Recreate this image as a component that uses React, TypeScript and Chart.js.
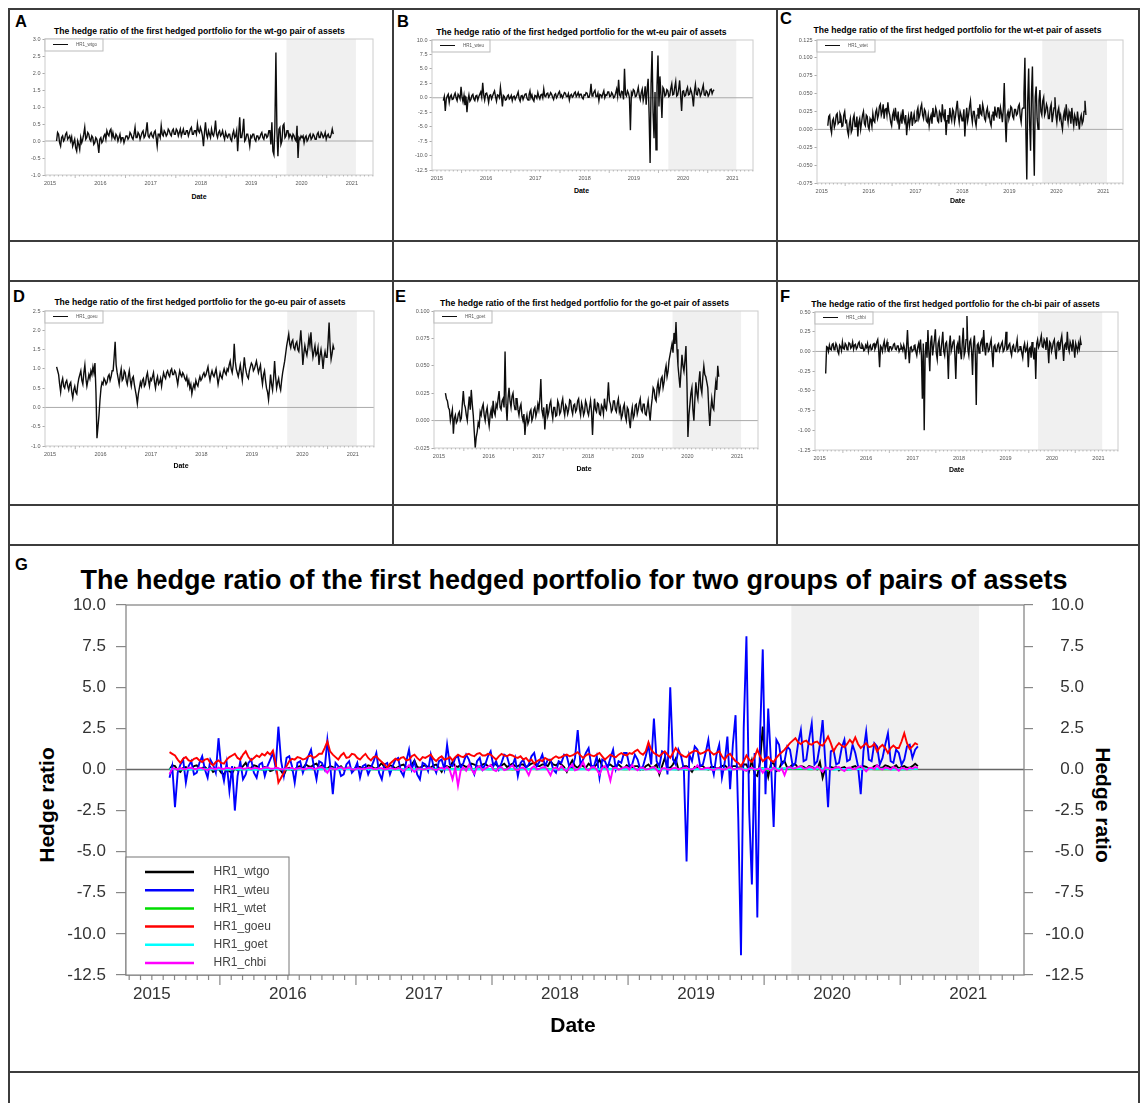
import React, { useEffect, useRef } from 'react';
import { Chart, registerables } from 'chart.js';

Chart.register(...registerables);

const FONT = '"Liberation Sans", Arial, Helvetica, sans-serif';
Chart.defaults.font.family = FONT;

// ---------------- data ----------------
// weekly observations (STEP_YEARS apart) starting at START_YEAR, in decimal years
const START_YEAR = 2015.13;
const STEP_YEARS = 0.02;

const HR1_WTGO = [
  0.0, 0.25, 0.2, -0.05, -0.15, 0.1, 0.15, 0.0, 0.05, 0.2, 0.25, 0.05, 0.1, 0.15, 0.0, 0.12, -0.15, -0.05, 0.05, -0.2, -0.3, 0.0, -0.1, -0.25, 0.1, -0.05, 0.05, 0.2, 0.4, 0.05, 0.1, 0.25, 0.2, 0.05, 0.0, 0.15, 0.1, -0.1, -0.05, 0.1, 0.05, -0.1, -0.35, 0.05,
  0.1, -0.05, 0.0, 0.15, 0.2, 0.05, 0.3, 0.2, 0.15, 0.3, 0.35, 0.1, 0.25, 0.1, 0.05, 0.2, 0.15, 0.0, 0.1, 0.2, 0.0, 0.1, 0.1, -0.05, 0.05, 0.15, 0.15, 0.05, 0.1, 0.25, 0.2, 0.1, 0.05, 0.2, 0.4, 0.1, 0.1, 0.25, 0.2, 0.05, 0.15, 0.25, 0.3, 0.1, 0.15, 0.3, 0.55, 0.15, 0.1, 0.2,
  0.25, 0.15, 0.1, 0.25, 0.3, 0.1, -0.15, 0.2, 0.2, 0.1, 0.45, 0.2, 0.15, 0.3, 0.25, 0.15, 0.2, 0.35, 0.3, 0.2, 0.15, 0.3, 0.35, 0.2, 0.2, 0.35, 0.3, 0.15, 0.25, 0.35, 0.15, 0.25, 0.35, 0.2, 0.2, 0.3, 0.3, 0.15, 0.25, 0.35, 0.4, 0.2, 0.2, 0.3, 0.3, 0.2, 0.5, 0.3, 0.25, 0.4,
  0.3, 0.15, -0.15, 0.25, 0.55, 0.2, 0.1, 0.3, 0.2, 0.1, 0.35, 0.2, 0.15, 0.3, 0.6, 0.2, 0.1, 0.25, 0.3, 0.15, 0.2, 0.3, 0.15, 0.05, 0.25, 0.15, 0.1, 0.2, 0.2, 0.05, 0.0, 0.2, 0.3, 0.1, 0.15, 0.3, -0.3, 0.2, 0.7, 0.1, 0.1, 0.3, 0.65, 0.0, 0.05, 0.2, 0.2, 0.05, -0.15, 0.15,
  0.1, 0.2, 0.2, 0.05, 0.0, 0.15, 0.15, 0.05, 0.1, 0.2, 0.25, 0.1, 0.05, 0.2, 0.2, 0.1, 0.15, 0.3, 0.3, -0.1, 0.55, -0.3, -0.4, 0.45, 2.6, 0.3, -0.45, 0.35, 0.4, -0.1, 0.0, 0.45, 0.5, 0.1, 0.15, 0.3, 0.3, 0.1, 0.2, 0.15, 0.05, 0.2, 0.15, 0.05, 0.0, 0.45, -0.5, 0.1, 0.05, 0.15,
  0.1, 0.15, -0.05, 0.1, 0.15, 0.0, 0.05, 0.15, 0.2, 0.05, 0.1, 0.2, 0.15, 0.05, 0.05, 0.2, 0.25, 0.1, 0.1, 0.25, 0.2, 0.1, 0.15, 0.25, 0.05, 0.15, 0.2, 0.1, 0.1, 0.2, 0.35, 0.2,
];

const HR1_WTEU = [
  -0.5, 0.2, -2.3, -0.2, 0.3, 0.6, -0.8, 0.2, 0.5, -0.3, -0.2, 0.4, 0.8, 0.0, -0.5, 0.6, 0.3, -0.2, 1.9, 0.1, -0.7, 0.4, -1.3, 0.2, -2.5, -0.4, 0.5, -0.6, -0.3, 0.4, 0.6, -0.2, -0.5, 0.3, 0.4, -0.4, 0.2, 0.6, 1.0, 0.1, 2.6, 0.5, -0.4, 0.7,
  0.8, 0.2, -0.8, 0.4, 0.5, -0.2, 0.3, 0.8, 1.2, 0.2, -0.6, 0.5, 0.4, 0.0, 1.8, 0.3, -1.5, 0.4, 0.2, -0.4, -0.3, 0.3, 0.5, -0.2, 0.0, 0.4, -0.5, 0.2, 0.3, -0.3, 0.1, 0.5, 1.0, -0.2, -0.6, 0.3, 0.4, -0.3, 0.2, 0.6, 0.7, -0.1, -0.4, 0.5, 1.2, 0.0, 0.5, -0.3, -0.6, 0.4,
  0.3, -0.1, 0.9, 0.2, -0.2, 0.5, 0.6, 0.0, 1.5, 0.3, 0.2, 0.7, 0.8, 0.1, 0.4, 0.9, 0.6, 0.1, -0.3, 0.5, 0.7, 0.0, 0.3, 0.8, 1.1, 0.2, 0.5, 0.0, 0.4, 0.9, 0.8, 0.2, 0.2, 0.7, -0.4, 0.4, 0.6, 0.1, 0.3, 0.8, 1.0, 0.2, 0.5, 0.9, 0.2, 0.6, 0.6, 0.0, -0.2, 0.5,
  0.4, 0.9, 0.8, 0.1, 0.1, 0.7, 2.4, 0.3, 0.6, 1.0, 1.3, 0.2, 0.2, 0.8, -0.5, 0.6, 0.5, 0.1, 0.7, 1.2, 0.0, 0.5, 0.4, 1.0, 1.0, 0.2, 0.3, 0.9, 0.6, 0.0, 0.2, 0.8, 1.5, 0.3, 3.1, 0.5, 0.2, 1.1, 1.0, -0.3, 5.0, 0.6, 0.3, 1.2, 0.8, 0.0, -5.6, 0.9, 0.5, 1.4,
  1.2, 0.2, 0.3, 1.0, 1.8, 0.4, -0.3, 0.9, 1.5, -0.5, 0.4, 2.0, -1.2, 1.5, 3.3, -3.0, -11.3, 2.5, 8.1, -2.5, -7.0, 1.0, -9.0, 2.0, 7.3, -1.5, 3.7, 0.5, -3.5, 1.8, 1.5, 0.3, 0.5, 1.4, 1.2, 0.2, 0.4, 1.6, 2.4, 0.5, 0.6, 1.8, 2.8, 0.3, 0.5, 1.5, 3.0, 0.4, -2.3, 1.1,
  1.2, 0.3, 0.4, 1.3, 1.8, 0.5, 0.6, 1.5, 1.0, 0.2, -1.5, 1.1, 2.3, 0.6, 0.5, 1.6, 1.4, 0.3, 0.7, 1.5, 2.2, 0.5, 0.4, 1.2, 1.0, 0.3, 0.6, 1.4, 1.5, 0.7, 1.2, 1.4,
];

const HR1_WTET = [
  0.005, 0.018, 0.02, 0.002, -0.005, 0.012, 0.015, 0.003, 0.008, 0.02, 0.022, 0.008, 0.01, 0.022, 0.018, 0.004, 0.005, 0.02, 0.025, 0.01, 0.012, -0.002, -0.008, 0.008, 0.015, -0.004, 0.0, 0.015, 0.02, 0.004, 0.005, 0.018, -0.01, 0.01, 0.015, 0.0, 0.01, 0.02, 0.025, 0.008, 0.005, 0.02, 0.018, 0.004,
  0.0, 0.015, 0.012, 0.004, 0.022, 0.012, 0.01, 0.024, 0.028, 0.015, 0.02, 0.032, 0.035, 0.02, 0.025, 0.035, 0.015, 0.028, 0.03, 0.02, 0.038, 0.025, 0.02, 0.01, 0.005, 0.02, 0.025, 0.012, 0.03, 0.018, 0.012, 0.025, 0.0, 0.012, 0.02, 0.008, 0.028, 0.015, 0.01, 0.02, -0.008, 0.008, 0.018, 0.005, 0.015, 0.025, 0.005, 0.015, 0.022, 0.01,
  0.012, 0.025, 0.03, 0.015, 0.02, 0.03, 0.035, 0.02, 0.015, 0.028, 0.025, 0.012, 0.01, 0.02, 0.005, 0.015, 0.02, 0.008, 0.03, 0.018, 0.018, 0.03, 0.025, 0.012, 0.01, 0.025, 0.022, 0.01, 0.035, 0.02, 0.015, 0.028, -0.008, 0.012, 0.02, 0.008, 0.03, 0.018, 0.012, 0.028, 0.025, 0.01, 0.018, 0.03, 0.04, 0.02, 0.01, 0.025, 0.02, 0.012,
  0.015, 0.028, -0.01, 0.015, 0.03, 0.012, 0.02, 0.032, 0.04, 0.02, 0.01, 0.025, 0.025, 0.012, 0.005, 0.02, 0.03, 0.015, 0.035, 0.022, 0.02, 0.035, 0.028, 0.015, 0.012, 0.025, 0.03, 0.018, 0.022, 0.01, 0.005, 0.02, 0.025, 0.012, 0.032, 0.02, 0.018, 0.03, 0.03, 0.015, 0.03, 0.022, 0.01, 0.028, 0.065, 0.015, -0.018, 0.02, 0.025, 0.015,
  0.02, 0.032, 0.03, 0.018, 0.015, 0.028, 0.028, 0.02, 0.022, 0.032, 0.035, 0.018, 0.01, 0.028, 0.03, 0.05, 0.1, 0.0, -0.07, 0.04, 0.085, 0.01, -0.03, 0.05, 0.088, 0.0, -0.065, 0.045, 0.06, 0.015, 0.0, 0.04, 0.055, 0.025, 0.02, 0.04, 0.045, 0.02, 0.025, 0.035, 0.03, 0.015, 0.015, 0.03, 0.035, 0.01, 0.02, 0.03, 0.045, 0.02,
  0.01, 0.025, 0.03, 0.015, 0.02, 0.008, 0.0, 0.018, 0.025, 0.012, 0.035, 0.02, 0.01, 0.025, 0.02, 0.008, 0.03, 0.015, 0.005, 0.02, 0.015, 0.005, 0.025, 0.012, 0.0, 0.015, 0.02, 0.008, 0.012, 0.025, 0.04, 0.02,
];

const HR1_GOEU = [
  1.05, 0.95, 0.85, 0.6, 0.4, 0.65, 0.75, 0.55, 0.5, 0.65, 0.7, 0.55, 0.45, 0.6, 0.65, 0.4, 0.25, 0.45, 0.55, 0.4, 0.35, 0.6, 0.75, 0.85, 0.95, 0.7, 0.6, 0.9, 1.1, 0.75, 0.55, 0.7, 0.85, 0.75, 0.95, 0.85, 1.05, 0.9, 1.15, 0.4, -0.8, -0.5, -0.2, 0.2,
  0.5, 0.65, 0.6, 0.75, 0.7, 0.6, 0.65, 0.8, 0.85, 0.7, 0.8, 0.95, 0.95, 1.3, 1.7, 1.1, 0.9, 0.75, 0.6, 0.85, 1.0, 0.7, 0.75, 0.95, 0.9, 0.7, 0.6, 0.8, 0.95, 0.7, 0.55, 0.75, 0.8, 0.6, 0.45, 0.3, 0.1, 0.35, 0.5, 0.65, 0.55, 0.7, 0.75, 0.55, 0.6, 0.8, 0.9, 0.7, 0.55, 0.75,
  0.7, 0.8, 0.9, 0.65, 0.5, 0.7, 0.8, 0.6, 0.65, 0.75, 0.55, 0.75, 0.9, 0.8, 0.75, 0.9, 0.95, 0.85, 0.8, 0.95, 1.0, 0.85, 0.85, 0.95, 0.9, 0.75, 0.6, 0.8, 0.95, 0.85, 0.8, 0.9, 0.85, 0.75, 0.7, 0.8, 0.6, 0.7, 0.5, 0.6, 0.35, 0.5, 0.6, 0.5, 0.7, 0.6, 0.55, 0.7, 0.8, 0.7,
  0.75, 0.85, 0.9, 0.8, 0.85, 0.95, 1.05, 0.85, 0.7, 0.85, 0.95, 0.85, 0.8, 0.9, 1.0, 0.8, 0.6, 0.75, 0.9, 0.8, 0.75, 0.9, 1.0, 0.9, 0.85, 1.0, 0.95, 1.1, 1.2, 1.0, 0.9, 1.1, 1.65, 1.2, 1.0, 0.9, 0.8, 0.95, 1.1, 0.9, 0.7, 1.0, 1.3, 1.05, 0.9, 0.8, 0.75, 0.95, 1.05, 1.15,
  1.1, 0.95, 1.0, 1.1, 1.2, 1.05, 0.9, 1.0, 1.1, 0.8, 0.6, 0.85, 0.95, 0.7, 0.5, 0.4, 0.2, 0.5, 0.85, 0.6, 0.45, 0.75, 1.2, 0.8, 0.5, 0.65, 0.75, 0.55, 0.45, 0.7, 0.9, 1.05, 1.2, 1.4, 1.6, 1.75, 1.9, 1.65, 1.55, 1.7, 1.75, 1.55, 1.5, 1.65, 1.7, 1.5, 1.45, 1.7, 2.0, 1.6,
  1.1, 1.4, 1.6, 1.45, 1.35, 1.55, 1.8, 1.6, 1.95, 1.55, 1.3, 1.45, 1.6, 1.35, 1.4, 1.55, 1.1, 1.35, 1.5, 1.3, 1.0, 1.3, 1.45, 1.3, 1.3, 1.7, 2.2, 1.6, 1.25, 1.4, 1.6, 1.5,
];

const HR1_GOET = [
  0.025, 0.02, 0.018, 0.012, 0.01, 0.0, 0.005, 0.01, -0.012, 0.002, 0.005, -0.002, 0.0, 0.006, 0.008, 0.0, 0.002, 0.015, 0.027, 0.015, 0.012, 0.005, 0.0, 0.012, 0.022, 0.01, 0.028, 0.015, 0.005, -0.01, -0.025, -0.015, -0.01, -0.002, -0.005, 0.008, 0.005, 0.012, 0.015, 0.005, 0.0, 0.008, 0.012, 0.002,
  -0.005, 0.005, 0.01, 0.002, 0.018, 0.008, 0.005, 0.015, 0.012, 0.02, 0.027, 0.012, 0.01, 0.018, 0.02, 0.012, 0.063, 0.015, 0.0, 0.02, 0.03, 0.018, 0.012, 0.022, 0.025, 0.015, 0.01, 0.02, 0.02, 0.01, 0.005, 0.012, 0.015, 0.004, 0.0, 0.006, -0.013, 0.0, 0.005, -0.003, 0.0, 0.008, 0.01, 0.0, 0.003, 0.01, 0.012, 0.004, 0.008, 0.015,
  0.01, 0.02, 0.038, 0.01, 0.005, 0.012, -0.008, 0.005, 0.015, 0.004, 0.008, 0.015, 0.018, 0.008, 0.002, 0.012, 0.012, 0.004, 0.005, 0.018, 0.015, 0.006, 0.008, 0.016, 0.02, 0.01, 0.005, 0.014, 0.012, 0.006, 0.01, 0.019, 0.018, 0.01, 0.006, 0.014, 0.015, 0.008, 0.01, 0.018, 0.02, 0.01, 0.005, 0.016, 0.012, 0.005, 0.008, 0.018, 0.015, 0.008,
  0.005, 0.012, 0.018, 0.008, -0.013, 0.008, 0.02, 0.01, 0.008, 0.016, 0.015, 0.006, 0.005, 0.014, 0.012, 0.006, 0.02, 0.012, 0.01, 0.02, 0.035, 0.018, 0.015, 0.008, 0.01, 0.018, 0.018, 0.01, 0.008, 0.016, 0.02, 0.008, 0.012, 0.002, 0.005, 0.012, 0.015, 0.004, 0.0, 0.012, 0.01, 0.0, -0.007, 0.006, 0.012, 0.002, 0.005, 0.014, 0.015, 0.006,
  0.01, 0.016, 0.02, 0.01, 0.008, 0.015, 0.015, 0.006, 0.005, 0.012, 0.018, 0.008, 0.0, 0.012, 0.02, 0.03, 0.028, 0.02, 0.018, 0.03, 0.035, 0.025, 0.03, 0.038, 0.04, 0.03, 0.035, 0.045, 0.05, 0.04, 0.045, 0.055, 0.06, 0.065, 0.07, 0.062, 0.08, 0.07, 0.09, 0.065, 0.05, 0.04, 0.03, 0.045, 0.06, 0.05, 0.045, 0.055, 0.068, 0.035,
  -0.015, 0.005, 0.015, 0.025, 0.03, 0.01, 0.0, 0.02, 0.035, 0.025, 0.02, 0.035, 0.045, 0.03, 0.025, 0.04, 0.05, 0.042, 0.04, 0.035, 0.03, 0.01, -0.005, 0.01, 0.02, 0.012, 0.01, 0.025, 0.035, 0.028, 0.05, 0.04,
];

const HR1_CHBI = [
  -0.28, 0.06, 0.05, 0.0, 0.08, 0.03, 0.02, 0.09, 0.1, 0.02, 0.04, 0.1, 0.07, 0.0, -0.03, 0.08, 0.06, 0.01, 0.12, 0.04, 0.03, 0.1, 0.08, 0.02, 0.05, 0.11, 0.1, 0.04, 0.06, 0.12, 0.03, 0.08, 0.09, 0.03, 0.05, 0.1, 0.12, 0.05, 0.04, 0.09, 0.07, 0.01, 0.02, 0.08,
  0.05, 0.1, 0.0, 0.06, 0.08, 0.02, 0.03, 0.09, 0.1, 0.03, 0.06, 0.12, 0.15, 0.02, -0.2, 0.07, 0.05, 0.0, 0.08, 0.13, 0.02, 0.07, 0.12, 0.01, 0.0, 0.06, 0.06, 0.02, 0.04, 0.09, 0.1, 0.03, 0.02, 0.07, 0.07, 0.0, 0.03, 0.08, 0.05, 0.01, 0.08, 0.03, -0.1, 0.06, 0.27, 0.02, -0.15, 0.05, 0.06, 0.0,
  0.02, 0.07, 0.08, 0.0, -0.05, 0.05, 0.1, 0.02, 0.15, -0.05, -0.6, 0.1, -1.0, -0.05, 0.12, -0.08, 0.27, 0.0, -0.25, 0.12, 0.2, -0.05, 0.05, 0.15, 0.28, -0.02, -0.1, 0.1, 0.15, -0.05, 0.0, 0.12, 0.25, 0.0, -0.05, 0.1, 0.12, -0.02, -0.35, 0.08, 0.2, 0.0, 0.05, 0.12, 0.15, -0.05, -0.35, 0.06, 0.1, -0.03,
  0.2, 0.0, -0.1, 0.12, 0.3, -0.05, 0.0, 0.15, 0.45, 0.02, -0.05, 0.12, 0.15, 0.0, -0.3, 0.1, 0.2, -0.05, -0.68, 0.08, 0.1, -0.02, 0.05, 0.12, 0.15, 0.0, 0.27, 0.05, -0.05, 0.1, 0.1, 0.0, 0.02, 0.1, 0.15, -0.02, -0.2, 0.06, 0.08, 0.0, 0.0, 0.08, 0.1, 0.01, 0.05, 0.09, 0.12, 0.0, 0.02, 0.08,
  0.25, 0.02, 0.03, 0.08, 0.1, 0.0, -0.05, 0.06, 0.08, 0.01, 0.0, 0.07, 0.15, 0.0, 0.02, 0.06, 0.06, -0.02, -0.08, 0.05, 0.1, 0.0, 0.02, 0.08, -0.2, 0.03, 0.05, -0.08, 0.12, 0.0, -0.1, 0.05, -0.35, 0.1, 0.15, 0.05, 0.08, 0.14, 0.2, 0.06, 0.05, 0.15, 0.12, 0.02, 0.18, 0.05, -0.15, 0.12, 0.1, 0.0,
  0.05, 0.12, 0.15, 0.0, -0.1, 0.1, 0.12, 0.02, 0.03, 0.14, 0.2, 0.05, -0.12, 0.08, 0.1, 0.02, 0.25, 0.05, 0.0, 0.12, 0.08, 0.0, 0.15, 0.05, -0.08, 0.1, 0.05, 0.0, 0.1, 0.04, 0.15, 0.08,
];

const SERIES = [HR1_WTGO, HR1_WTEU, HR1_WTET, HR1_GOEU, HR1_GOET, HR1_CHBI];
const SERIES_LABELS = ['HR1_wtgo', 'HR1_wteu', 'HR1_wtet', 'HR1_goeu', 'HR1_goet', 'HR1_chbi'];
const PAIR_NAMES = ['wt-go', 'wt-eu', 'wt-et', 'go-eu', 'go-et', 'ch-bi'];
const PANEL_LETTERS = ['A', 'B', 'C', 'D', 'E', 'F'];
const YEAR_TICKS = [2015, 2016, 2017, 2018, 2019, 2020, 2021];

const SMALL_Y_MIN = [-1, -12.5, -0.075, -1, -0.025, -1.25];
const SMALL_Y_MAX = [3, 10, 0.125, 2.5, 0.1, 0.5];
const SMALL_Y_STEP = [0.5, 2.5, 0.025, 0.5, 0.025, 0.25];
const SMALL_Y_DECIMALS = [1, 1, 3, 1, 3, 2];

const G_Y_MIN = -12.5;
const G_Y_MAX = 10;
const G_Y_STEP = 2.5;
const G_COLORS = ['#000000', '#0000ff', '#00dd00', '#ff0000', '#00ffff', '#ff00ff'];

const SHADE_FROM = 2019.7;
const SHADE_TO = 2021.08;

// ---------------- layout ----------------
const SMALL_X_MIN = 2014.9;
const SMALL_X_MAX = 2021.42;
const G_X_MIN = 2014.81;
const G_X_MAX = 2021.41;

const SMALL_LAYOUT = [
  { plot: [45, 373, 39, 175], letter: [15, 15], title: [199.5, 30.5], date: [199, 196] },
  { plot: [432, 753, 40, 170], letter: [397, 15], title: [581.5, 32], date: [581.5, 189.5] },
  { plot: [817, 1123, 40, 183], letter: [780, 12], title: [957.5, 29.5], date: [957.5, 200] },
  { plot: [45, 374, 311, 446], letter: [13, 290], title: [200, 302], date: [181, 464.5] },
  { plot: [434, 758, 311, 448], letter: [395, 290], title: [584.5, 302.5], date: [584, 468] },
  { plot: [815, 1118, 312, 450], letter: [780, 290], title: [955.5, 304], date: [956.5, 469] },
];
const S_YW = 26;
const S_PADT = 7;
const S_PADR = 6;
const S_XH = 16;

const G_PLOT = [126, 1024, 605, 975];
const G_YW = 60;
const G_PADT = 22;
const G_XH = 42;

const toPoints = (vals: number[]) => vals.map((v, i) => ({ x: START_YEAR + i * STEP_YEARS, y: v }));

type LegendSpec = {
  anchor: 'top' | 'bottom';
  w: number; h: number; firstRow: number; rowH: number;
  lineX0: number; lineX1: number; textX: number;
  fontSize: number; textColor: string; lineWidth: number; borderColor: string;
};

type DecorOpts = {
  shade: string; zeroColor: string; zeroWidth: number;
  frameColor: string; frameWidth: number;
  tickColor: string; shortTick: number; longTick: number; tickWidth: number;
  legend: LegendSpec;
};

function decorPlugin(o: DecorOpts) {
  return {
    id: 'decor',
    beforeDatasetsDraw(chart: any) {
      const { ctx, chartArea: a } = chart;
      const xs = chart.scales.x;
      const ys = chart.scales.y;
      ctx.save();
      const sx0 = Math.max(a.left, xs.getPixelForValue(SHADE_FROM));
      const sx1 = Math.min(a.right, xs.getPixelForValue(SHADE_TO));
      ctx.fillStyle = o.shade;
      ctx.fillRect(sx0, a.top, sx1 - sx0, a.bottom - a.top);
      const zy = ys.getPixelForValue(0);
      ctx.strokeStyle = o.zeroColor;
      ctx.lineWidth = o.zeroWidth;
      ctx.beginPath();
      ctx.moveTo(a.left, zy);
      ctx.lineTo(a.right, zy);
      ctx.stroke();
      ctx.restore();
    },
    afterDatasetsDraw(chart: any) {
      const { ctx, chartArea: a } = chart;
      const xs = chart.scales.x;
      ctx.save();
      // frame
      ctx.strokeStyle = o.frameColor;
      ctx.lineWidth = o.frameWidth;
      ctx.strokeRect(a.left, a.top, a.right - a.left, a.bottom - a.top);
      // month ticks on the date axis (long ones at mid-year)
      ctx.strokeStyle = o.tickColor;
      ctx.lineWidth = o.tickWidth;
      ctx.beginPath();
      for (let m = Math.ceil(xs.min * 12); m <= Math.floor(xs.max * 12); m++) {
        const px = xs.getPixelForValue(m / 12);
        const len = ((m % 12) + 12) % 12 === 6 ? o.longTick : o.shortTick;
        ctx.moveTo(px, a.bottom);
        ctx.lineTo(px, a.bottom + len);
      }
      ctx.stroke();
      // legend
      const lg = o.legend;
      const bx = a.left;
      const by = lg.anchor === 'top' ? a.top : a.bottom - lg.h;
      ctx.fillStyle = '#ffffff';
      ctx.fillRect(bx, by, lg.w, lg.h);
      ctx.strokeStyle = lg.borderColor;
      ctx.lineWidth = 1;
      ctx.strokeRect(bx, by, lg.w, lg.h);
      ctx.font = `${lg.fontSize}px ${FONT}`;
      ctx.textBaseline = 'middle';
      ctx.textAlign = 'left';
      chart.data.datasets.forEach((d: any, i: number) => {
        const ry = by + lg.firstRow + i * lg.rowH;
        ctx.strokeStyle = d.borderColor;
        ctx.lineWidth = lg.lineWidth;
        ctx.beginPath();
        ctx.moveTo(bx + lg.lineX0, ry);
        ctx.lineTo(bx + lg.lineX1, ry);
        ctx.stroke();
        ctx.fillStyle = lg.textColor;
        ctx.fillText(d.label, bx + lg.textX, ry);
      });
      ctx.restore();
    },
  };
}

const textBase: React.CSSProperties = {
  position: 'absolute',
  fontFamily: FONT,
  lineHeight: 1,
  whiteSpace: 'nowrap',
  color: '#000',
};

function CenterText({ x, y, size, bold = true, rotate = 0, color = '#000', children }: any) {
  return (
    <div
      style={{
        ...textBase,
        left: x,
        top: y,
        fontSize: size,
        fontWeight: bold ? 700 : 400,
        color,
        transform: `translate(-50%, -50%) rotate(${rotate}deg)`,
      }}
    >
      {children}
    </div>
  );
}

function Letter({ x, y, children }: any) {
  const size = 16.5;
  return (
    <div style={{ ...textBase, left: x, top: y - 0.13 * size, fontSize: size, fontWeight: 700 }}>{children}</div>
  );
}

function SmallPanel({ idx }: { idx: number }) {
  const ref = useRef<HTMLCanvasElement | null>(null);
  const lay = SMALL_LAYOUT[idx];
  const [L, R, T, B] = lay.plot;
  const cw = R - L + S_YW + S_PADR;
  const ch = B - T + S_PADT + S_XH;

  useEffect(() => {
    const dec = SMALL_Y_DECIMALS[idx];
    const chart = new Chart(ref.current as HTMLCanvasElement, {
      type: 'line',
      data: {
        datasets: [
          {
            label: SERIES_LABELS[idx],
            data: toPoints(SERIES[idx]),
            borderColor: '#0d0d0d',
            borderWidth: 1.4,
            pointRadius: 0,
            tension: 0,
            fill: false,
          },
        ],
      },
      options: {
        animation: false,
        responsive: false,
        maintainAspectRatio: false,
        events: [],
        layout: { padding: { top: S_PADT, right: S_PADR, left: 0, bottom: 0 } },
        plugins: { legend: { display: false }, tooltip: { enabled: false }, title: { display: false } },
        scales: {
          x: {
            type: 'linear',
            min: SMALL_X_MIN,
            max: SMALL_X_MAX,
            afterBuildTicks: (s: any) => {
              s.ticks = YEAR_TICKS.map((value) => ({ value }));
            },
            afterFit: (s: any) => {
              s.height = S_XH;
            },
            grid: { display: false, drawTicks: false },
            border: { display: false },
            ticks: {
              autoSkip: false,
              maxRotation: 0,
              padding: 5,
              color: '#555',
              font: { size: 5.5, family: FONT },
              callback: (v: any) => String(v),
            },
          },
          y: {
            type: 'linear',
            min: SMALL_Y_MIN[idx],
            max: SMALL_Y_MAX[idx],
            afterFit: (s: any) => {
              s.width = S_YW;
            },
            grid: { drawOnChartArea: false, drawTicks: true, tickLength: 2.5, color: '#aaa' },
            border: { display: false },
            ticks: {
              stepSize: SMALL_Y_STEP[idx],
              padding: 2,
              color: '#555',
              font: { size: 5.5, family: FONT },
              callback: (v: any) => Number(v).toFixed(dec),
            },
          },
        },
      } as any,
      plugins: [
        decorPlugin({
          shade: '#f0f0f0',
          zeroColor: '#aaaaaa',
          zeroWidth: 1,
          frameColor: '#cccccc',
          frameWidth: 1,
          tickColor: '#aaaaaa',
          shortTick: 1.5,
          longTick: 3,
          tickWidth: 0.8,
          legend: {
            anchor: 'top',
            w: 58,
            h: 12,
            firstRow: 5.5,
            rowH: 0,
            lineX0: 8,
            lineX1: 23,
            textX: 31,
            fontSize: 4.5,
            textColor: '#555',
            lineWidth: 1,
            borderColor: '#bbbbbb',
          },
        }),
      ],
    });
    return () => chart.destroy();
  }, [idx]);

  return (
    <>
      <Letter x={lay.letter[0]} y={lay.letter[1]}>{PANEL_LETTERS[idx]}</Letter>
      <CenterText x={lay.title[0]} y={lay.title[1]} size={8.6}>
        {`The hedge ratio of the first hedged portfolio for the ${PAIR_NAMES[idx]} pair of assets`}
      </CenterText>
      <canvas
        ref={ref}
        width={cw}
        height={ch}
        style={{ position: 'absolute', left: L - S_YW, top: T - S_PADT, width: cw, height: ch }}
      />
      <CenterText x={lay.date[0]} y={lay.date[1]} size={7}>Date</CenterText>
    </>
  );
}

function BigPanel() {
  const ref = useRef<HTMLCanvasElement | null>(null);
  const [L, R, T, B] = G_PLOT;
  const cw = R - L + 2 * G_YW;
  const ch = B - T + G_PADT + G_XH;

  useEffect(() => {
    const yAxis = (pos: 'left' | 'right') => ({
      type: 'linear',
      position: pos,
      min: G_Y_MIN,
      max: G_Y_MAX,
      afterFit: (s: any) => {
        s.width = G_YW;
      },
      grid: { drawOnChartArea: false, drawTicks: true, tickLength: pos === 'left' ? 10 : 9, color: '#888', lineWidth: 1.2 },
      border: { display: false },
      ticks: {
        stepSize: G_Y_STEP,
        padding: 10,
        crossAlign: pos === 'left' ? 'near' : 'far',
        color: '#333',
        font: { size: 17, family: FONT },
        callback: (v: any) => Number(v).toFixed(1),
      },
    });
    const chart = new Chart(ref.current as HTMLCanvasElement, {
      type: 'line',
      data: {
        datasets: SERIES.map((vals, i) => ({
          label: SERIES_LABELS[i],
          data: toPoints(vals),
          borderColor: G_COLORS[i],
          borderWidth: 1.9,
          pointRadius: 0,
          tension: 0,
          fill: false,
          yAxisID: 'y',
          order: SERIES.length - 1 - i,
        })),
      },
      options: {
        animation: false,
        responsive: false,
        maintainAspectRatio: false,
        events: [],
        layout: { padding: { top: G_PADT, right: 0, left: 0, bottom: 0 } },
        plugins: { legend: { display: false }, tooltip: { enabled: false }, title: { display: false } },
        scales: {
          x: {
            type: 'linear',
            min: G_X_MIN,
            max: G_X_MAX,
            afterBuildTicks: (s: any) => {
              s.ticks = YEAR_TICKS.map((value) => ({ value }));
            },
            afterFit: (s: any) => {
              s.height = G_XH;
            },
            grid: { display: false, drawTicks: false },
            border: { display: false },
            ticks: {
              autoSkip: false,
              maxRotation: 0,
              padding: 9,
              color: '#333',
              font: { size: 17, family: FONT },
              callback: (v: any) => String(v),
            },
          },
          y: yAxis('left'),
          y2: yAxis('right'),
        },
      } as any,
      plugins: [
        decorPlugin({
          shade: '#f0f0f0',
          zeroColor: '#666666',
          zeroWidth: 1.6,
          frameColor: '#888888',
          frameWidth: 1.3,
          tickColor: '#888888',
          shortTick: 5,
          longTick: 10,
          tickWidth: 1.2,
          legend: {
            anchor: 'bottom',
            w: 163,
            h: 118,
            firstRow: 15,
            rowH: 18.2,
            lineX0: 19,
            lineX1: 68,
            textX: 87.5,
            fontSize: 12,
            textColor: '#444',
            lineWidth: 2.5,
            borderColor: '#777777',
          },
        }),
      ],
    });
    return () => chart.destroy();
  }, []);

  return (
    <>
      <Letter x={15} y={558.5}>G</Letter>
      <CenterText x={574} y={580} size={27}>
        The hedge ratio of the first hedged portfolio for two groups of pairs of assets
      </CenterText>
      <canvas
        ref={ref}
        width={cw}
        height={ch}
        style={{ position: 'absolute', left: L - G_YW, top: T - G_PADT, width: cw, height: ch }}
      />
      <CenterText x={45.5} y={805} size={21} rotate={-90}>Hedge ratio</CenterText>
      <CenterText x={1103} y={805} size={21} rotate={90}>Hedge ratio</CenterText>
      <CenterText x={573} y={1024} size={21}>Date</CenterText>
    </>
  );
}

const LINE_COLOR = '#3c3c3c';
const H_LINES = [8, 240, 280, 504, 544, 1071];
const V_LINES_TOP = [392, 776];

export default function App() {
  useEffect(() => {
    document.documentElement.style.overflow = 'hidden';
  }, []);
  return (
    <div style={{ position: 'absolute', left: 0, top: 0, width: 1140, height: 1103, overflow: 'hidden', background: '#fff' }}>
      {H_LINES.map((y) => (
        <div key={'h' + y} style={{ position: 'absolute', left: 8, top: y, width: 1132, height: 2, background: LINE_COLOR }} />
      ))}
      {V_LINES_TOP.map((x) => (
        <div key={'v' + x} style={{ position: 'absolute', left: x, top: 8, width: 2, height: 538, background: LINE_COLOR }} />
      ))}
      <div style={{ position: 'absolute', left: 8, top: 8, width: 2, height: 1095, background: LINE_COLOR }} />
      <div style={{ position: 'absolute', left: 1138, top: 8, width: 2, height: 1095, background: LINE_COLOR }} />
      {[0, 1, 2, 3, 4, 5].map((i) => (
        <SmallPanel key={i} idx={i} />
      ))}
      <BigPanel />
    </div>
  );
}
